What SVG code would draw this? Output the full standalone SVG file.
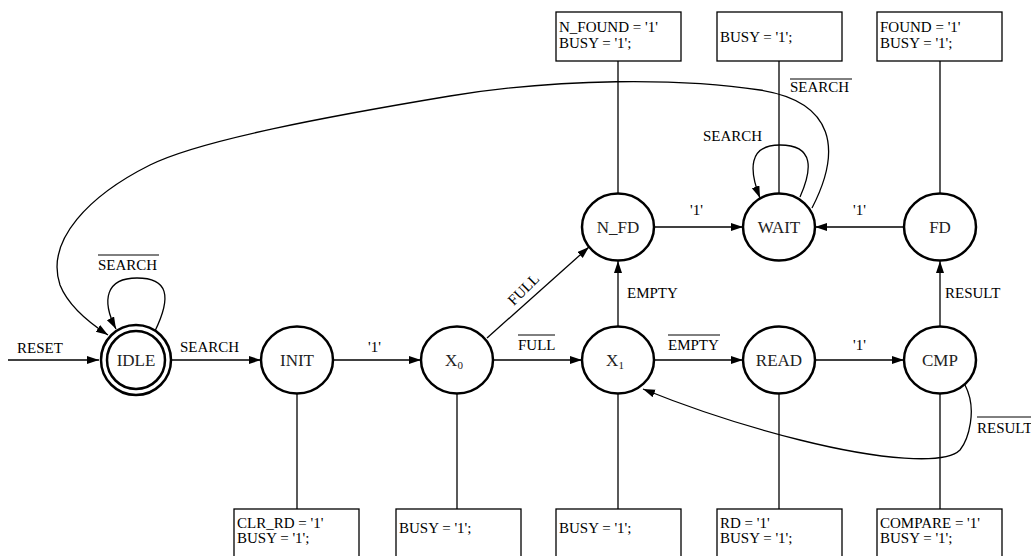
<svg xmlns="http://www.w3.org/2000/svg" width="1031" height="556" viewBox="0 0 1031 556">
<defs>
<marker id="arr" markerUnits="userSpaceOnUse" markerWidth="13" markerHeight="9" refX="12" refY="4" orient="auto"><path d="M0,0 L12,4 L0,8 z" fill="#000"/></marker>
<marker id="dot" markerUnits="userSpaceOnUse" markerWidth="10" markerHeight="10" refX="5" refY="5"><circle cx="5" cy="5" r="4.2" fill="#000"/></marker>
</defs>
<style>
.st{fill:#fff;stroke:#000;stroke-width:2.5}
.bx{fill:#fff;stroke:#000;stroke-width:1.3}
.ln{fill:none;stroke:#000;stroke-width:1.3}
.nl{font-size:17px;fill:#222;text-anchor:middle}
.el{font-size:15px;fill:#000}
.bt{font-size:15px;fill:#000}
.ov{stroke:#000;stroke-width:1}
</style>
<rect width="1031" height="556" fill="#fff"/>
<g font-family="Liberation Serif, Times New Roman, Times, DejaVu Serif, Noto Serif, FreeSerif, serif">
<g id="connectors">
<line class="ln" x1="8" y1="360" x2="99" y2="360" marker-end="url(#arr)"/>
<line class="ln" x1="172" y1="360" x2="261" y2="360" marker-end="url(#arr)"/>
<line class="ln" x1="333" y1="360" x2="421" y2="360" marker-end="url(#arr)"/>
<line class="ln" x1="493" y1="360" x2="582" y2="360" marker-end="url(#arr)"/>
<line class="ln" x1="654" y1="360" x2="743" y2="360" marker-end="url(#arr)"/>
<line class="ln" x1="815" y1="360" x2="904" y2="360" marker-end="url(#arr)"/>
<line class="ln" x1="487" y1="338" x2="589" y2="247" marker-end="url(#arr)"/>
<line class="ln" x1="618" y1="327" x2="618" y2="261" marker-end="url(#arr)"/>
<line class="ln" x1="940" y1="327" x2="940" y2="261" marker-end="url(#arr)"/>
<line class="ln" x1="654" y1="227" x2="743" y2="227" marker-end="url(#arr)"/>
<line class="ln" x1="904" y1="227" x2="815" y2="227" marker-end="url(#arr)"/>
<path class="ln" d="M155,331 C172,296 168,278 137,278 C106,278 101,300 116,329" marker-end="url(#arr)"/>
<path class="ln" d="M800,197 C812,170 815,145 780,145 C748,145 749,170 760,198" marker-end="url(#arr)"/>
<path class="ln" d="M812,208 C842,150 835,102 760,90 C680,78 560,78 450,96 C330,116 200,140 150,165 C90,195 45,240 60,285 C68,305 88,322 108,335" marker-end="url(#arr)"/>
<path class="ln" d="M965,385 C978,410 968,440 960,450 C945,465 880,460 800,440 C740,425 690,408 643,389" marker-end="url(#arr)"/>
<line class="ln" x1="297" y1="379" x2="297" y2="509" marker-start="url(#dot)"/>
<line class="ln" x1="457" y1="379" x2="457" y2="509" marker-start="url(#dot)"/>
<line class="ln" x1="618" y1="379" x2="618" y2="509" marker-start="url(#dot)"/>
<line class="ln" x1="779" y1="379" x2="779" y2="509" marker-start="url(#dot)"/>
<line class="ln" x1="940" y1="379" x2="940" y2="509" marker-start="url(#dot)"/>
<line class="ln" x1="618" y1="205" x2="618" y2="61" marker-start="url(#dot)"/>
<line class="ln" x1="779" y1="205" x2="779" y2="61" marker-start="url(#dot)"/>
<line class="ln" x1="940" y1="205" x2="940" y2="61" marker-start="url(#dot)"/>
<text class="el" x="17" y="353">RESET</text>
<text class="el" x="180" y="352">SEARCH</text>
<text class="el" x="368" y="352">'1'</text>
<text class="el" x="518" y="350">FULL</text><line class="ov" x1="518" y1="335" x2="555" y2="335"/>
<text class="el" x="668" y="350">EMPTY</text><line class="ov" x1="668" y1="335" x2="720" y2="335"/>
<text class="el" x="853" y="350">'1'</text>
<text class="el" x="627" y="298">EMPTY</text>
<text class="el" x="945" y="298">RESULT</text>
<text class="el" x="0" y="0" transform="translate(527,293) rotate(-45)" text-anchor="middle">FULL</text>
<text class="el" x="690" y="215">'1'</text>
<text class="el" x="853" y="215">'1'</text>
<text class="el" x="703" y="141">SEARCH</text>
<text class="el" x="98" y="270">SEARCH</text><line class="ov" x1="98" y1="255" x2="159" y2="255"/>
<text class="el" x="790" y="92">SEARCH</text><line class="ov" x1="790" y1="79" x2="852" y2="79"/>
<text class="el" x="977" y="433">RESULT</text><line class="ov" x1="977" y1="417" x2="1031" y2="417"/>
</g>
<g id="IDLE"><circle class="st" cx="136" cy="360" r="35"/><circle class="st" cx="136" cy="360" r="29"/><text class="nl" x="136" y="366">IDLE</text></g>
<g id="INIT"><ellipse class="st" cx="297" cy="360" rx="36" ry="33.5"/><text class="nl" x="297" y="366">INIT</text></g>
<g id="X0"><ellipse class="st" cx="457" cy="360" rx="36" ry="33.5"/><text class="nl" x="454" y="366">X<tspan font-size="11" dy="3">0</tspan></text></g>
<g id="X1"><ellipse class="st" cx="618" cy="360" rx="36" ry="33.5"/><text class="nl" x="615" y="366">X<tspan font-size="11" dy="3">1</tspan></text></g>
<g id="READ"><ellipse class="st" cx="779" cy="360" rx="36" ry="33.5"/><text class="nl" x="779" y="366">READ</text></g>
<g id="CMP"><ellipse class="st" cx="940" cy="360" rx="36" ry="33.5"/><text class="nl" x="940" y="366">CMP</text></g>
<g id="N_FD"><ellipse class="st" cx="618" cy="227" rx="36" ry="33.5"/><text class="nl" x="618" y="233">N_FD</text></g>
<g id="WAIT"><ellipse class="st" cx="779" cy="227" rx="36" ry="33.5"/><text class="nl" x="779" y="233">WAIT</text></g>
<g id="FD"><ellipse class="st" cx="940" cy="227" rx="36" ry="33.5"/><text class="nl" x="940" y="233">FD</text></g>
<g id="box_init"><rect class="bx" x="234" y="509" width="125" height="60"/><text class="bt" x="237" y="528">CLR_RD = '1'</text><text class="bt" x="237" y="543">BUSY = '1';</text></g>
<g id="box_x0"><rect class="bx" x="396" y="509" width="125" height="60"/><text class="bt" x="399" y="533">BUSY = '1';</text></g>
<g id="box_x1"><rect class="bx" x="556" y="509" width="125" height="60"/><text class="bt" x="559" y="533">BUSY = '1';</text></g>
<g id="box_read"><rect class="bx" x="717" y="509" width="125" height="60"/><text class="bt" x="720" y="528">RD = '1'</text><text class="bt" x="720" y="543">BUSY = '1';</text></g>
<g id="box_cmp"><rect class="bx" x="877" y="509" width="125" height="60"/><text class="bt" x="880" y="528">COMPARE = '1'</text><text class="bt" x="880" y="543">BUSY = '1';</text></g>
<g id="box_nfd"><rect class="bx" x="556" y="12" width="125" height="49"/><text class="bt" x="559" y="32">N_FOUND = '1'</text><text class="bt" x="559" y="48">BUSY = '1';</text></g>
<g id="box_wait"><rect class="bx" x="717" y="12" width="125" height="49"/><text class="bt" x="720" y="42">BUSY = '1';</text></g>
<g id="box_fd"><rect class="bx" x="877" y="12" width="125" height="49"/><text class="bt" x="880" y="32">FOUND = '1'</text><text class="bt" x="880" y="48">BUSY = '1';</text></g>
</g>
</svg>
